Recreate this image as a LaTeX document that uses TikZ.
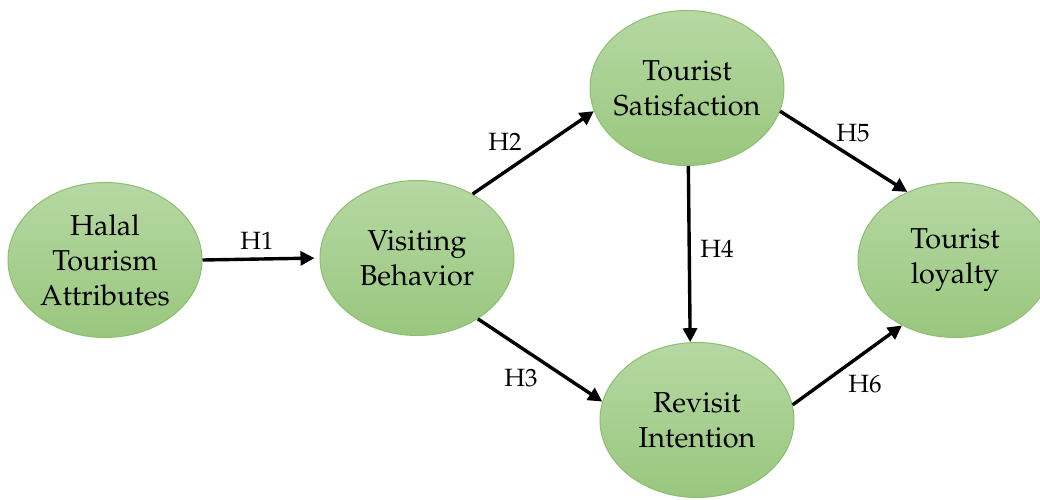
\documentclass[tikz,border=0pt]{standalone}
\usepackage[T1]{fontenc}
\usepackage{mathpazo}
\usetikzlibrary{shapes.geometric,arrows.meta}
\definecolor{gtop}{HTML}{B6D8A3}
\definecolor{gbot}{HTML}{99C77E}
\definecolor{gline}{HTML}{8CBF6E}
\tikzset{
  construct/.style={ellipse, draw=gline, line width=0.5pt, top color=gtop, bottom color=gbot,
    minimum width=97pt, minimum height=77.5pt, inner xsep=-4pt, inner ysep=0pt, align=center,
    font=\fontsize{14.4}{17.5}\selectfont},
  path/.style={line width=1.7pt, -{Triangle[length=7pt,width=7pt]}},
  hyp/.style={font=\fontsize{12.5}{14}\selectfont}
}
\begin{document}
\begin{tikzpicture}[x=0.5pt,y=-0.5pt]
\useasboundingbox (0,0) rectangle (1040,499);
\node[construct] (hta) at (105,260) {Halal\\Tourism\\Attributes};
\node[construct] (vb) at (417,258) {Visiting\\Behavior};
\node[construct] (ts) at (687,88) {Tourist\\Satisfaction};
\node[construct] (tl) at (955,260) {Tourist\\loyalty};
\node[construct] (ri) at (697,420) {Revisit\\Intention};
\draw[path, shorten >=2.5pt] (hta.0) -- (vb.180);
\draw[path] (vb.49) -- (ts.194);
\draw[path] (vb.-45.5) -- (ri.169);
\draw[path] (ts.-89) -- (ri.95);
\draw[path] (ts.-14.5) -- (tl.125.5);
\draw[path] (ri.9) -- (tl.231);
\node[hyp] (h1) at (257,241) {H1};
\node[hyp] (h2) at (505,142) {H2};
\node[hyp] (h3) at (521,378) {H3};
\node[hyp] (h4) at (717,249) {H4};
\node[hyp] (h5) at (853,133) {H5};
\node[hyp] (h6) at (865,384) {H6};
\end{tikzpicture}
\end{document}
